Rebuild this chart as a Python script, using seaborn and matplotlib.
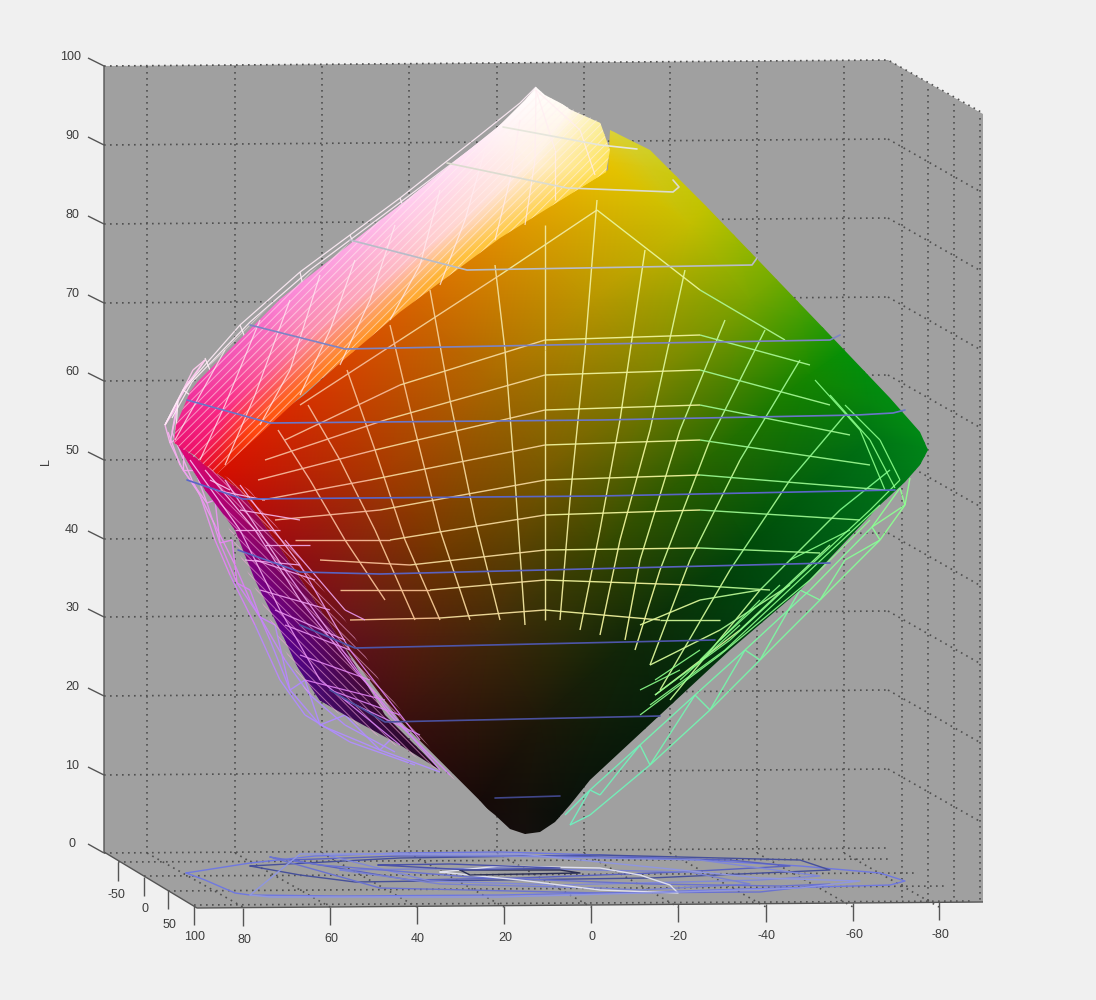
import numpy as np
import matplotlib
matplotlib.use("Agg")
import matplotlib.pyplot as plt
import seaborn as sns
from matplotlib.collections import LineCollection
from matplotlib.colors import LinearSegmentedColormap
from matplotlib.patches import Polygon

# ---------- tick labels ----------
l_labels = ["100", "90", "80", "70", "60", "50", "40", "30", "20", "10", "0"]
l_wall_y = [66, 145, 224, 303, 381, 460, 539, 617, 696, 775, 853]
a_labels = ["80", "60", "40", "20", "0", "-20", "-40", "-60", "-80"]
a_front_x = [243, 330, 417, 504, 591, 678, 766, 853, 939]
a_back_x = [147, 235, 322, 409, 497, 584, 670, 757, 844]
b_labels = ["-50", "0", "50", "100"]
b_tick_x = [118, 144, 168, 194]
b_tick_y = [862, 877, 890, 906]
right_wall_x = [902, 928, 954, 980]

# ---------- colour surface: nodes (x, y, r, g, b) ----------
front_x = [[205, 305, 410, 510, 600, 580], [285, 390, 490, 590, 690, 720], [340, 440, 545, 650, 750, 790],
           [400, 490, 600, 700, 810, 860], [480, 540, 640, 750, 870, 935], [525, 560, 660, 780, 890, 945]]
front_y = [[470, 395, 300, 225, 160, 95], [555, 470, 380, 300, 225, 190], [640, 555, 470, 380, 300, 270],
           [720, 635, 550, 465, 375, 340], [800, 720, 630, 545, 440, 450], [850, 820, 730, 620, 510, 460]]
front_rgb = [[(220, 10, 0), (215, 50, 0), (215, 100, 0), (225, 150, 0), (235, 195, 0), (225, 220, 90)],
             [(150, 10, 20), (165, 60, 0), (170, 105, 0), (185, 150, 0), (195, 190, 0), (190, 200, 0)],
             [(100, 15, 30), (110, 55, 0), (120, 90, 0), (125, 130, 0), (120, 165, 0), (110, 175, 0)],
             [(60, 15, 15), (65, 40, 10), (55, 70, 0), (40, 100, 0), (20, 135, 0), (0, 150, 10)],
             [(22, 10, 8), (28, 24, 8), (15, 42, 8), (0, 75, 10), (0, 115, 20), (0, 135, 25)],
             [(20, 15, 15), (10, 15, 10), (5, 30, 10), (0, 70, 20), (0, 110, 25), (0, 140, 25)]]
front_outline = [(215, 472), (300, 395), (400, 310), (500, 235), (608, 170), (610, 130), (650, 150), (672, 172),
                 (705, 205), (760, 262), (830, 335), (890, 398), (920, 432), (928, 450), (920, 465), (905, 482),
                 (880, 505), (800, 590), (730, 650), (660, 715), (590, 780), (570, 805), (555, 822), (540, 832),
                 (525, 834), (510, 829), (495, 815), (470, 795), (440, 770), (385, 715), (340, 640), (285, 555),
                 (240, 490)]

pink_x = [[170, 185, 280, 400, 500, 536], [195, 225, 310, 430, 530, 570], [215, 250, 330, 450, 610, 615],
          [235, 270, 350, 470, 630, 635]]
pink_y = [[440, 395, 300, 205, 125, 85], [455, 410, 335, 245, 165, 110], [475, 430, 365, 265, 170, 130],
          [490, 445, 385, 285, 190, 150]]
pink_rgb = [[(235, 20, 120), (240, 50, 160), (250, 130, 215), (255, 200, 240), (255, 245, 250), (255, 255, 255)],
            [(240, 15, 100), (250, 40, 130), (252, 140, 170), (255, 205, 205), (255, 240, 225), (255, 250, 240)],
            [(225, 15, 5), (255, 70, 15), (255, 130, 30), (255, 190, 60), (255, 225, 70), (250, 235, 120)],
            [(225, 15, 5), (255, 70, 15), (255, 130, 30), (255, 190, 60), (255, 225, 70), (250, 235, 120)]]
pink_outline = [(536, 87), (545, 95), (570, 108), (600, 122), (610, 150), (606, 172), (500, 238), (400, 312),
                (300, 397), (217, 474), (195, 458), (174, 443), (176, 425), (190, 392), (225, 345), (300, 280),
                (400, 205), (500, 125), (525, 100)]

purple_x = [[175, 205, 240, 280, 320, 440], [235, 275, 320, 360, 405, 510]]
purple_y = [[440, 490, 560, 640, 700, 775], [475, 520, 575, 640, 715, 800]]
purple_rgb = [[(235, 10, 120), (190, 0, 130), (130, 0, 140), (90, 0, 150), (70, 10, 110), (30, 10, 20)],
              [(210, 0, 30), (140, 10, 60), (120, 10, 50), (90, 10, 40), (50, 10, 20), (20, 5, 10)]]
purple_outline = [(175, 442), (217, 474), (240, 490), (285, 555), (340, 640), (385, 715), (440, 770), (400, 745),
                  (345, 715), (310, 695), (285, 640), (255, 580), (235, 530), (205, 490)]

# ---------- L level contours on the surface ----------
levels_x = [[503, 600, 637], [447, 567, 673, 679, 673], [350, 467, 752, 757], [250, 345, 600, 830, 840],
            [187, 270, 600, 857, 893, 905], [187, 243, 600, 895], [238, 300, 380, 830], [300, 355, 715],
            [330, 385, 660], [495, 560]]
levels_y = [[127, 145, 149], [163, 188, 192, 187, 180], [240, 270, 265, 258], [325, 349, 344, 340, 335],
            [400, 423, 420, 415, 413, 410], [480, 499, 496, 490], [550, 572, 574, 563], [625, 648, 640],
            [690, 722, 716], [798, 796]]
levels_col = ["#e6e6dc", "#dcdcd0", "#b8bcc8", "#7d84c4", "#6a76c8", "#5a66c8", "#5a62c0", "#4d55a8",
              "#4a509c", "#40468a"]

# ---------- contours projected on the floor ----------
floor_x = [[186, 250, 315, 400, 500, 600, 700, 800, 880, 905, 890, 780, 650, 500, 340, 250, 235, 205, 186],
           [250, 300, 355, 500, 650, 830, 800, 600, 400, 250],
           [290, 350, 410, 520, 680, 790, 730, 560, 400, 290],
           [330, 430, 560, 760, 820, 700, 500, 350, 330],
           [340, 440, 600, 640, 750, 690, 500, 340],
           [270, 320, 470, 650, 780, 830, 760, 600, 380, 270],
           [440, 520, 600, 678, 670, 640, 600, 500, 440],
           [460, 470, 580, 560, 460],
           [378, 470, 560, 450, 378],
           [250, 270, 500, 680, 800, 860, 760, 520, 300, 250]]
floor_y = [[873, 863, 856, 853, 852, 855, 860, 866, 873, 881, 885, 888, 892, 895, 896, 895, 893, 880, 873],
           [866, 875, 882, 880, 878, 870, 860, 855, 858, 866],
           [860, 870, 880, 878, 872, 866, 860, 856, 856, 860],
           [856, 881, 885, 880, 876, 860, 856, 854, 856],
           [870, 884, 888, 890, 884, 872, 868, 870],
           [857, 865, 877, 884, 886, 884, 892, 893, 888, 857],
           [872, 880, 890, 893, 885, 875, 868, 866, 872],
           [870, 875, 873, 870, 870],
           [865, 870, 868, 864, 865],
           [895, 897, 897, 892, 888, 881, 878, 854, 854, 895]]
floor_col = ["#6f78e0", "#46509a", "#5a62c0", "#8088d8", "#7a82d0", "#6a72d0", "#dfe0ee", "#2a2e55", "#4a52a8", "#8f96e0"]

# ---------- wire mesh over the front face ----------
front_wire = [
    [(278, 430), (310, 480), (345, 540), (385, 600)], [(308, 405), (340, 460), (375, 530), (415, 620)],
    [(347, 370), (375, 450), (405, 540), (440, 620)], [(390, 325), (415, 430), (440, 530), (470, 620)],
    [(430, 290), (450, 400), (475, 520), (500, 620)], [(495, 265), (505, 350), (515, 480), (525, 625)],
    [(545, 225), (545, 350), (545, 480), (545, 620)], [(597, 200), (585, 350), (570, 500), (560, 620)],
    [(645, 250), (620, 420), (600, 530), (580, 630)], [(685, 270), (650, 430), (620, 540), (600, 635)],
    [(725, 320), (680, 430), (640, 560), (625, 640)], [(765, 330), (710, 440), (660, 570), (635, 650)],
    [(800, 360), (740, 460), (690, 560), (650, 665)], [(845, 415), (790, 480), (730, 570), (660, 690)],
    [(890, 470), (840, 510), (760, 590), (670, 700)],
    [(300, 405), (400, 340), (500, 275), (597, 210), (700, 290), (785, 340)],
    [(285, 440), (400, 385), (545, 340), (700, 335), (810, 365)], [(265, 460), (385, 420), (545, 375), (700, 370), (830, 405)],
    [(258, 480), (375, 450), (545, 410), (700, 405), (850, 435)], [(262, 500), (370, 480), (545, 445), (700, 440), (870, 465)],
    [(275, 520), (380, 510), (545, 480), (700, 475), (885, 490)], [(295, 540), (390, 540), (545, 515), (700, 510), (860, 520)],
    [(320, 560), (410, 565), (545, 550), (700, 548), (820, 553)], [(340, 590), (430, 590), (545, 580), (690, 585), (770, 590)],
    [(350, 620), (440, 618), (545, 610), (660, 620), (720, 620)],
    [(640, 625), (700, 600), (760, 590)], [(650, 665), (720, 630), (790, 585)], [(655, 695), (740, 630), (830, 545)],
]

# ---------- wire mesh on the pink / white upper face ----------
upper_wire = [
    [(175, 440), (200, 395), (225, 350)], [(200, 460), (225, 405), (260, 320)], [(225, 465), (255, 395), (290, 300)],
    [(260, 425), (290, 370), (320, 275)], [(300, 395), (330, 330), (355, 260)], [(340, 365), (370, 300), (395, 225)],
    [(390, 320), (420, 265), (440, 190)], [(440, 285), (465, 220), (485, 150)], [(495, 240), (510, 180), (520, 120)],
    [(555, 200), (555, 150), (536, 90)], [(595, 175), (580, 130), (536, 90)], [(525, 225), (535, 160), (536, 90)],
]
outer_upper = [[(165, 425), (183, 390), (240, 325), (300, 272), (400, 198), (480, 135), (520, 103), (536, 87)],
               [(172, 418), (192, 382), (250, 322), (310, 270), (410, 195), (490, 135), (528, 100)],
               [(165, 425), (178, 400), (176, 430)], [(183, 390), (190, 395), (183, 420)], [(205, 358), (212, 375)],
               [(240, 325), (248, 345)], [(300, 272), (305, 295)], [(350, 235), (358, 255)], [(400, 198), (408, 220)]]
# ---------- wire on the lower left (violet) face ----------
lower_wire = [
    [(205, 470), (255, 530), (300, 600), (355, 670), (440, 770)], [(225, 480), (285, 570), (335, 640), (390, 715), (450, 775)],
    [(190, 460), (240, 530), (280, 610), (320, 680), (400, 745)], [(240, 485), (300, 565), (350, 650), (420, 740)],
    [(230, 490), (210, 480)], [(280, 530), (235, 530)], [(300, 565), (245, 560)], [(330, 610), (260, 590)],
    [(350, 650), (285, 625)], [(385, 700), (305, 680)], [(420, 735), (345, 700)], [(315, 580), (255, 560)],
    [(345, 640), (275, 610)], [(370, 680), (300, 655)], [(400, 715), (330, 690)], [(265, 500), (215, 490)],
    [(300, 520), (240, 510)], [(310, 545), (265, 545)], [(285, 540), (345, 610), (365, 620)],
]
lower_band = [(205, 465), (250, 490), (345, 620), (385, 690), (455, 780), (400, 748), (345, 718), (305, 690), (270, 620),
              (235, 545)]
right_wire = [
    [(895, 488), (870, 440), (830, 395)], [(885, 490), (860, 430), (815, 380)], [(900, 480), (880, 440), (845, 405)],
    [(655, 695), (730, 640), (800, 575), (870, 510), (900, 480)], [(650, 705), (725, 650), (805, 575), (880, 505)],
    [(640, 715), (720, 655), (810, 580), (870, 520)], [(680, 680), (740, 625)], [(700, 660), (760, 600)],
    [(720, 640), (780, 585)], [(790, 560), (850, 530)], [(640, 690), (680, 670)], [(655, 680), (700, 650)],
]
outer_green = [(910, 478), (905, 505), (880, 540), (820, 600), (760, 660), (710, 710), (650, 765), (590, 815), (570, 825)]
inner_green = [(900, 488), (872, 527), (810, 590), (745, 650), (695, 695), (640, 745), (590, 790), (565, 815)]
green_zig = [(900, 488), (905, 505), (872, 527), (880, 540), (845, 560), (820, 600), (800, 590), (760, 660), (745, 650),
             (710, 710), (695, 695), (650, 765), (640, 745), (600, 795), (590, 790), (570, 825)]
outer_left = [(193, 370), (183, 390), (165, 425), (170, 443), (183, 470), (207, 503), (220, 543), (237, 583), (260, 617),
              (270, 640), (290, 690), (320, 725), (380, 750), (440, 772)]
inner_left = [(205, 360), (178, 400), (172, 432), (192, 480), (215, 525), (235, 565), (250, 600), (285, 660), (310, 695),
              (345, 725), (395, 752)]
middle_left = [(168, 432), (180, 465), (200, 495), (215, 540), (230, 575), (255, 625), (280, 680), (305, 715), (350, 742),
               (415, 765)]
left_zig = [(193, 370), (205, 360), (183, 390), (190, 380), (165, 425), (178, 405), (170, 443), (183, 435), (183, 470),
            (195, 470), (207, 503), (215, 500), (220, 543), (232, 540), (237, 583), (250, 590), (260, 617), (275, 625),
            (290, 690), (305, 680), (320, 725), (345, 715), (380, 750), (395, 735)]

sns.set_theme(style="white")
plt.rcParams["font.family"] = ["Liberation Sans", "DejaVu Sans"]
plt.rcParams["hatch.linewidth"] = 0.7
fig = plt.figure(figsize=(10.96, 10), dpi=100, facecolor="#f0f0f0")
ax = fig.add_axes([0, 0, 1, 1])
ax.set_xlim(0, 1096)
ax.set_ylim(1000, 0)
ax.axis("off")

# axes box
ax.add_patch(Polygon([(104, 66), (888, 60), (983, 114), (983, 902), (197, 908), (104, 852)], closed=True,
                     fc="#a0a0a0", ec="none", zorder=1))
GRID = dict(color="#505050", lw=1.2, ls=(0, (1, 2.6)), zorder=2)
# back and side walls
for y in l_wall_y[1:-1]:
    ax.plot([104, 888], [y, y - 6], **GRID)
    ax.plot([888, 981], [y - 6, y + 47], **GRID)
ax.plot([104, 888, 981], [66, 60, 112], **GRID)
for x in a_back_x:
    ax.plot([x, x], [66, 853], **GRID)
for x in right_wall_x:
    ax.plot([x, x], [66 + (x - 888) * 0.57, 902], **GRID)
# floor
for xb, xf in zip(a_back_x, a_front_x):
    ax.plot([xb, xf], [853, 907], **GRID)
for x, y, dy in zip(b_tick_x, [862, 876, 891, 905], [-3, -3, -5, -4]):
    ax.plot([x, 975 - (906 - y) * 1.9], [y, y + dy], **GRID)
ax.plot([104, 888], [853, 848], **GRID)
# box edges and ticks
EDGE = dict(color="#555555", lw=1.0, zorder=3, solid_capstyle="butt")
ax.plot([104, 104, 197, 983], [66, 852, 908, 902], **EDGE)
ax.plot([88, 104], [844, 853], **EDGE)
for y in l_wall_y[:-1]:
    ax.plot([88, 104], [y - 8, y], **EDGE)
for x, y in zip(b_tick_x, b_tick_y):
    ax.plot([x, x], [y, y + 19], **EDGE)
for x in a_front_x:
    ax.plot([x, x], [908 - (x - 197) * 0.0077, 926 - (x - 197) * 0.0077], **EDGE)
# tick labels
TXT = dict(color="#3c3c3c", fontsize=9, ha="center", va="center", zorder=6)
for lab, y in zip(l_labels, l_wall_y):
    ax.text(71 if len(lab) > 2 else 72, y - 9, lab, **TXT)
for lab, x in zip(a_labels, a_front_x):
    ax.text(x + 1, 940 - (x - 243) * 0.0075, lab, **TXT)
for lab, x, y in zip(b_labels, [116, 145, 169, 195], [895, 909, 925, 937]):
    ax.text(x, y, lab, **TXT)
ax.text(46, 462, "L", rotation=90, **TXT)

# floor contours
for xs, ys, c in zip(floor_x, floor_y, floor_col):
    sns.lineplot(x=xs, y=ys, sort=False, estimator=None, color=c, lw=1.0, ax=ax, zorder=4)
ax.set_xlim(0, 1096)
ax.set_ylim(1000, 0)
ax.axis("off")

# wire that hangs outside the surface (behind it)
def seg_lines(polys, cmap_fn, lw, alpha, z):
    segs, cols = [], []
    for p in polys:
        for a, b in zip(p[:-1], p[1:]):
            segs.append([a, b])
            cols.append(cmap_fn(((a[0] + b[0]) / 2, (a[1] + b[1]) / 2)))
    ax.add_collection(LineCollection(segs, colors=cols, linewidths=lw, alpha=alpha, zorder=z))

purple_cm = LinearSegmentedColormap.from_list("p", ["#ffd0ee", "#f2a8ee", "#e080f2", "#b088ff", "#b090ff"])
green_cm = LinearSegmentedColormap.from_list("g", ["#70f0c0", "#78f5a8", "#90ff90"])
seg_lines([outer_left, inner_left, middle_left, left_zig], lambda m: purple_cm((m[1] - 360) / 420), 1.0, 0.95, 5)
seg_lines([outer_green, inner_green, green_zig], lambda m: green_cm((m[0] - 570) / 340), 1.0, 0.95, 5)
seg_lines(outer_upper, lambda m: (1, 0.93, 0.97, 1), 0.9, 0.9, 5)

# coloured surface
def surface(xs, ys, rgb, outline):
    mesh = ax.pcolormesh(np.array(xs, float), np.array(ys, float), np.array(rgb, float) / 255,
                         shading="gouraud", zorder=6)
    clip = Polygon(outline, closed=True, transform=ax.transData, fc="none", ec="none")
    ax.add_patch(clip)
    mesh.set_clip_path(clip)

surface(purple_x, purple_y, purple_rgb, purple_outline)
surface(front_x, front_y, front_rgb, front_outline)
surface(pink_x, pink_y, pink_rgb, pink_outline)

# dense hatching standing in for the fine wires
ax.add_patch(Polygon(pink_outline, closed=True, fill=False, hatch="////", edgecolor=(1, 0.95, 0.95, 0.55), lw=0, zorder=6.5))
ax.add_patch(Polygon(lower_band, closed=True, fill=False, hatch="\\\\\\\\", edgecolor=(0.95, 0.65, 0.85, 0.6), lw=0, zorder=6.5))

# wires on the surface
wire_cm = LinearSegmentedColormap.from_list("w", ["#f5b0a0", "#f5c090", "#f2e6a0", "#eef59a", "#a0f590", "#70f585"])
seg_lines(front_wire, lambda m: wire_cm(np.clip((m[0] - 270) / 620, 0, 1)), 1.0, 0.95, 7)
seg_lines(upper_wire, lambda m: (1, 0.93, 0.95, 1), 0.9, 0.75, 7)
seg_lines(lower_wire, lambda m: purple_cm(np.clip((m[1] - 440) / 500, 0, 1)), 0.9, 0.9, 7)
seg_lines(right_wire, lambda m: (0.55, 1, 0.55, 1), 0.9, 0.9, 7)

# L level lines
for xs, ys, c in zip(levels_x, levels_y, levels_col):
    sns.lineplot(x=xs, y=ys, sort=False, estimator=None, color=c, lw=1.2, ax=ax, zorder=8)
ax.set_xlim(0, 1096)
ax.set_ylim(1000, 0)
ax.axis("off")
fig.savefig("out.png", dpi=100, facecolor=fig.get_facecolor())
